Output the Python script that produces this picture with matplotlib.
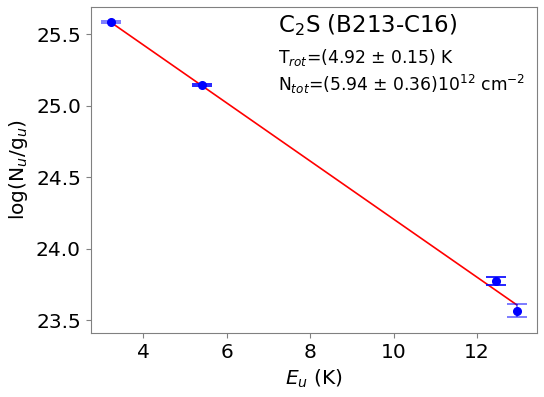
import matplotlib
matplotlib.use("Agg")
import matplotlib.pyplot as plt
import numpy as np

# Data
E_u = [3.22, 5.40, 12.45, 12.95]
logN = [25.585, 25.144, 23.774, 23.566]
logN_err = [0.006, 0.006, 0.027, 0.047]
err_alpha = [0.6, 1.0, 1.0, 0.6]
T_rot = 4.92
intercept = 26.24

title_text = "C$_2$S (B213-C16)"
trot_text = "T$_{rot}$=(4.92 $\\pm$ 0.15) K"
ntot_text = "N$_{tot}$=(5.94 $\\pm$ 0.36)10$^{12}$ cm$^{-2}$"

fig = plt.figure(figsize=(5.44, 3.97), dpi=100)
ax = fig.add_axes([90.7/544, 1-333/397, (537-90.7)/544, (333-7.3)/397])

x_fit = np.array([min(E_u), max(E_u)])
ax.plot(x_fit, intercept - x_fit / T_rot, color='red', lw=1.2, zorder=2)
for xi, yi, ei, ai in zip(E_u, logN, logN_err, err_alpha):
    ax.errorbar([xi], [yi], yerr=[ei], fmt='none', ecolor='blue', elinewidth=1.2,
                capsize=7.5, capthick=1.2, alpha=ai, zorder=3)
ax.plot(E_u, logN, 'o', color='blue', ms=5.5, zorder=4)

for s in ax.spines.values():
    s.set_color('#808080')
ax.tick_params(labelsize=14.5, color='#808080')
ax.set_xlabel(r'$E_u$ (K)', fontsize=14.5)
ax.set_ylabel(r'log(N$_u$/g$_u$)', fontsize=14.5)
ax.set_xticks([4, 6, 8, 10, 12])
ax.set_yticks([23.5, 24.0, 24.5, 25.0, 25.5])
ax.set_xlim(2.74, 13.44)
ax.set_ylim(23.41, 25.69)

ax.text(0.42, 0.946, title_text, transform=ax.transAxes, fontsize=16.5, va='center', ha='left')
ax.text(0.42, 0.845, trot_text, transform=ax.transAxes, fontsize=12.3, va='center', ha='left')
ax.text(0.42, 0.762, ntot_text, transform=ax.transAxes, fontsize=12.3, va='center', ha='left')

fig.savefig("out.png", dpi=100)
